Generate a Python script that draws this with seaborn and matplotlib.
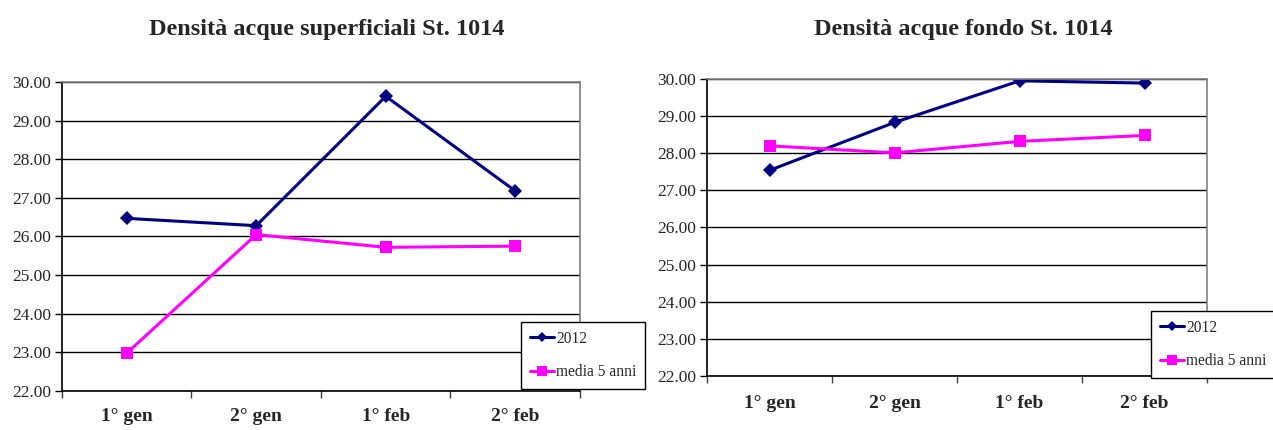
import matplotlib
matplotlib.use("Agg")
import matplotlib.pyplot as plt
import seaborn as sns
import pandas as pd
from matplotlib.ticker import FixedLocator, FormatStrFormatter

periodi = ["1° gen", "2° gen", "1° feb", "2° feb"]
serie = ["2012", "media 5 anni"]
sup_2012 = [26.47, 26.28, 29.63, 27.18]
sup_media = [22.98, 26.05, 25.72, 25.75]
fondo_2012 = [27.54, 28.83, 29.95, 29.89]
fondo_media = [28.20, 28.01, 28.32, 28.48]
titoli = ["Densità acque superficiali St. 1014", "Densità acque fondo St. 1014"]
y_ticks = [22, 23, 24, 25, 26, 27, 28, 29, 30]

sns.set_theme(style="white")
plt.rcParams["font.family"] = ["Liberation Serif", "DejaVu Serif"]

def make_df(a, b):
    rows = []
    for p, v in zip(periodi, a):
        rows.append({"periodo": p, "valore": v, "serie": serie[0]})
    for p, v in zip(periodi, b):
        rows.append({"periodo": p, "valore": v, "serie": serie[1]})
    return pd.DataFrame(rows)

fig = plt.figure(figsize=(12.73, 4.30), dpi=100)
axes_pos = [[0.0487, 0.0907, 0.4069, 0.7186], [0.5554, 0.1256, 0.3928, 0.6907]]
legend_pos = [(0.4093, 0.2512), (0.9042, 0.2767)]
title_x = [327 / 1273, 963 / 1273]
palette = {"2012": "#000080", "media 5 anni": "#FF00FF"}
markers = {"2012": "D", "media 5 anni": "s"}

for i, (a, b) in enumerate([(sup_2012, sup_media), (fondo_2012, fondo_media)]):
    ax = fig.add_axes(axes_pos[i])
    df = make_df(a, b)
    sns.lineplot(data=df, x="periodo", y="valore", hue="serie", style="serie",
                 markers=markers, dashes=False, palette=palette, ax=ax,
                 linewidth=2.2, markeredgewidth=0, legend=True)
    for line in ax.lines:
        if line.get_marker() == "D":
            line.set_markersize(7)
        elif line.get_marker() == "s":
            line.set_markersize(8.5)
    ax.set_xlim(-0.5, 3.5)
    ax.set_ylim(22, 30)
    ax.yaxis.set_major_locator(FixedLocator(y_ticks))
    ax.yaxis.set_major_formatter(FormatStrFormatter("%.2f"))
    ax.set_xticks(range(len(periodi)))
    ax.set_xticklabels(periodi, fontweight="bold", fontsize=14)
    ax.set_xticks([-0.5, 0.5, 1.5, 2.5, 3.5], minor=True)
    ax.tick_params(axis="x", which="major", length=0, pad=12 if i == 0 else 14)
    ax.tick_params(axis="x", which="minor", length=5, width=1, color="#404040", direction="out", bottom=True)
    ax.tick_params(axis="y", which="major", length=5, width=1, color="black", direction="out", left=True, labelsize=12.5, pad=3)
    ax.grid(axis="y", color="black", linewidth=1)
    ax.set_axisbelow(True)
    ax.set_xlabel("")
    ax.set_ylabel("")
    for s in ["top", "right"]:
        ax.spines[s].set_color("#808080")
        ax.spines[s].set_linewidth(1.2)
    for s in ["left", "bottom"]:
        ax.spines[s].set_color("black")
        ax.spines[s].set_linewidth(1.2)
    handles, labels = ax.get_legend_handles_labels()
    ax.get_legend().remove()
    leg = fig.legend(handles, labels, loc="upper left", bbox_to_anchor=legend_pos[i],
                     bbox_transform=fig.transFigure, frameon=True, fancybox=False,
                     fontsize=11.2, handlelength=1.6, handletextpad=0.1,
                     labelspacing=1.15, borderpad=0.55, borderaxespad=0,
                     markerscale=0.8)
    leg.get_frame().set_edgecolor("black")
    leg.get_frame().set_linewidth(1.0)
    leg.get_frame().set_facecolor("white")
    leg.get_frame().set_alpha(1)
    fig.text(title_x[i], 1 - 29 / 430, titoli[i], ha="center", va="center",
             fontsize=17.5, fontweight="bold")

fig.savefig("out.png", dpi=100)
